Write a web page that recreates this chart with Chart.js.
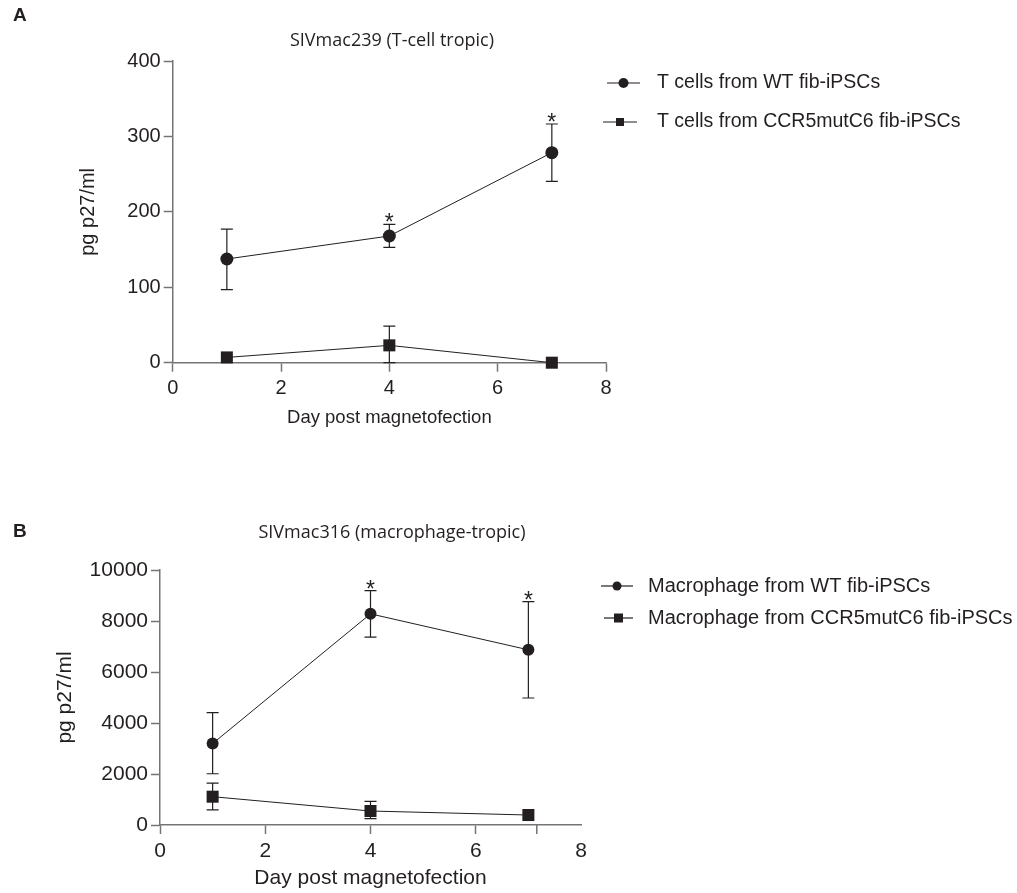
<!DOCTYPE html>
<html>
<head>
<meta charset="utf-8">
<script src="https://cdn.jsdelivr.net/npm/chart.js@4.4.1/dist/chart.umd.min.js"></script>
<style>
  html, body { margin: 0; padding: 0; background: #fff; }
  #wrap { position: relative; width: 1017px; height: 893px; }
  .panel { position: absolute; left: 0; width: 1017px; }
  #pa { top: 0; height: 445px; }
  #pb { top: 445px; height: 448px; }
</style>
</head>
<body>
<div id="wrap">
  <div class="panel" id="pa"><canvas id="chartA" width="1017" height="445"></canvas></div>
  <div class="panel" id="pb"><canvas id="chartB" width="1017" height="448"></canvas></div>
</div>
<script>
// --- data ---
const days = [1, 4, 7];
const xTicks = [0, 2, 4, 6, 8];

// panel A: SIVmac239
const legendA = ["T cells from WT fib-iPSCs", "T cells from CCR5mutC6 fib-iPSCs"];
const wtA = [137.5, 168, 278.5];
const wtA_lo = [97, 153, 240.5];
const wtA_hi = [177, 183.5, 316.5];
const mutA = [7, 23, 0];
const mutA_lo = [7, 0, 0];
const mutA_hi = [7, 48.5, 0];
const starsA = [false, true, true];
const yTicksA = [0, 100, 200, 300, 400];

// panel B: SIVmac316
const legendB = ["Macrophage from WT fib-iPSCs", "Macrophage from CCR5mutC6 fib-iPSCs"];
const wtB = [3195, 8280, 6870];
const wtB_lo = [2010, 7370, 4980];
const wtB_hi = [4410, 9190, 8760];
const mutB = [1110, 548, 391];
const mutB_lo = [590, 250, 391];
const mutB_hi = [1640, 927, 391];
const starsB = [false, true, true];
const yTicksB = [0, 2000, 4000, 6000, 8000, 10000];

const ink = "#231f20";
const axisGray = "#747474";
const sans = '"Liberation Sans", Arial, sans-serif';
const titleFont = '"Open Sans", sans-serif';

const toPts = (vals) => vals.map((v, i) => ({ x: days[i], y: v }));

// error bars, stars, titles and the line+marker legend
const panelDecor = {
  id: "panelDecor",
  beforeDatasetsDraw(chart, args, opts) {
    const { ctx, scales: { x, y } } = chart;
    ctx.save();
    ctx.strokeStyle = ink;
    ctx.lineWidth = 1.2;
    chart.data.datasets.forEach((ds) => {
      ds.data.forEach((p, i) => {
        const px = x.getPixelForValue(p.x);
        const py = y.getPixelForValue(p.y);
        [ds.errHi[i], ds.errLo[i]].forEach((e) => {
          if (e === p.y) return;
          const ey = y.getPixelForValue(e);
          ctx.beginPath();
          ctx.moveTo(px, py);
          ctx.lineTo(px, ey);
          ctx.moveTo(px - 6, ey);
          ctx.lineTo(px + 6, ey);
          ctx.stroke();
        });
      });
    });
    ctx.restore();
  },
  afterDraw(chart, args, opts) {
    const { ctx, scales: { x, y } } = chart;
    ctx.save();
    ctx.fillStyle = ink;

    // panel letter
    ctx.font = "bold 19px " + sans;
    ctx.textAlign = "left";
    ctx.textBaseline = "middle";
    ctx.fillText(opts.letter, 13, opts.letterY);

    // title
    ctx.font = "18px " + titleFont;
    ctx.textAlign = "center";
    ctx.fillText(opts.title, opts.titleX, opts.titleY);

    // significance stars
    const ds0 = chart.data.datasets[0];
    ctx.font = "23px " + sans;
    ctx.textBaseline = "alphabetic";
    opts.stars.forEach((s, i) => {
      if (!s) return;
      const px = x.getPixelForValue(days[i]);
      const cap = y.getPixelForValue(ds0.errHi[i]);
      ctx.fillText("*", px, cap + 6);
    });

    // extra tick marks on the x axis
    ctx.strokeStyle = axisGray;
    ctx.lineWidth = 1.5;
    (opts.extraTicks || []).forEach((v) => {
      const px = x.getPixelForValue(v);
      ctx.beginPath();
      ctx.moveTo(px, y.bottom);
      ctx.lineTo(px, y.bottom + 9);
      ctx.stroke();
    });

    // legend
    const lg = opts.legend;
    ctx.font = lg.size + "px " + sans;
    ctx.textAlign = "left";
    ctx.textBaseline = "middle";
    chart.data.datasets.forEach((ds, k) => {
      const row = lg.rows[k];
      ctx.strokeStyle = ink;
      ctx.lineWidth = 1.2;
      ctx.beginPath();
      ctx.moveTo(row.x0, row.y);
      ctx.lineTo(row.x1, row.y);
      ctx.stroke();
      const cx = (row.x0 + row.x1) / 2;
      ctx.fillStyle = ink;
      ctx.beginPath();
      if (ds.pointStyle === "circle") {
        ctx.arc(cx, row.y, lg.dot, 0, Math.PI * 2);
      } else {
        ctx.rect(cx - lg.sq / 2, row.y - lg.sq / 2, lg.sq, lg.sq);
      }
      ctx.fill();
      ctx.fillText(ds.label, lg.textX, row.y);
    });
    ctx.restore();
  }
};

function makeChart(id, cfg) {
  const mkDs = (label, vals, lo, hi, style, r) => ({
    label,
    data: toPts(vals),
    errLo: lo,
    errHi: hi,
    borderColor: ink,
    borderWidth: 1,
    pointStyle: style,
    pointRadius: r,
    pointBackgroundColor: ink,
    pointBorderColor: ink,
    pointBorderWidth: 0,
    tension: 0,
    clip: false
  });

  return new Chart(document.getElementById(id), {
    type: "line",
    data: {
      datasets: [
        mkDs(cfg.labels[0], cfg.wt, cfg.wtLo, cfg.wtHi, "circle", cfg.dotR),
        mkDs(cfg.labels[1], cfg.mut, cfg.mutLo, cfg.mutHi, "rect", cfg.sqR)
      ]
    },
    options: {
      responsive: false,
      animation: false,
      events: [],
      layout: { padding: cfg.padding },
      scales: {
        x: {
          type: "linear",
          min: 0,
          max: 8,
          afterBuildTicks: (s) => { s.ticks = xTicks.map((v) => ({ value: v })); },
          afterFit: (s) => { s.height = cfg.xH; },
          ticks: {
            color: ink,
            font: { family: sans, size: cfg.tickSize },
            padding: 5,
            maxRotation: 0,
            callback: (v) => String(v)
          },
          grid: {
            drawOnChartArea: false,
            tickLength: 9,
            tickWidth: 1.5,
            tickColor: (c) => (cfg.hideTick8 && c.tick && c.tick.value === 8 ? "rgba(0,0,0,0)" : axisGray)
          },
          border: { color: axisGray, width: 1.5 },
          title: {
            display: true,
            text: "Day post magnetofection",
            color: ink,
            font: { family: sans, size: cfg.xTitleSize },
            padding: { top: 4, bottom: cfg.xTitlePad }
          }
        },
        y: {
          min: 0,
          max: cfg.yTicks[cfg.yTicks.length - 1],
          afterBuildTicks: (s) => { s.ticks = cfg.yTicks.map((v) => ({ value: v })); },
          afterFit: (s) => { s.width = cfg.yW; },
          ticks: {
            color: ink,
            font: { family: sans, size: cfg.tickSize },
            padding: 3,
            callback: (v) => String(v)
          },
          grid: { drawOnChartArea: false, tickLength: 9, tickWidth: 1.5, tickColor: axisGray },
          border: { color: axisGray, width: 1.5 },
          title: {
            display: true,
            text: "pg p27/ml",
            color: ink,
            font: { family: sans, size: cfg.yTitleSize },
            padding: { top: 4, bottom: 4 }
          }
        }
      },
      plugins: {
        legend: { display: false },
        tooltip: { enabled: false },
        panelDecor: cfg.decor
      }
    },
    plugins: [panelDecor]
  });
}

makeChart("chartA", {
  labels: legendA,
  wt: wtA, wtLo: wtA_lo, wtHi: wtA_hi,
  mut: mutA, mutLo: mutA_lo, mutHi: mutA_hi,
  yTicks: yTicksA,
  dotR: 6.5, sqR: 8.5,
  tickSize: 20, xTitleSize: 18.5, yTitleSize: 20,
  padding: { left: 72, right: 411, top: 61, bottom: 12 },
  yW: 100.7, xH: 70.3, xTitlePad: 4,
  hideTick8: false,
  decor: {
    letter: "A", letterY: 16,
    title: "SIVmac239 (T-cell tropic)", titleX: 392, titleY: 41,
    stars: starsA,
    legend: {
      size: 19.5, dot: 5, sq: 8, textX: 657,
      rows: [{ x0: 607, x1: 640, y: 83 }, { x0: 603, x1: 637, y: 122 }]
    }
  }
});

makeChart("chartB", {
  labels: legendB,
  wt: wtB, wtLo: wtB_lo, wtHi: wtB_hi,
  mut: mutB, mutLo: mutB_lo, mutHi: mutB_hi,
  yTicks: yTicksB,
  dotR: 6, sqR: 8.5,
  tickSize: 21, xTitleSize: 21, yTitleSize: 21,
  padding: { left: 48.4, right: 436, top: 125, bottom: 0.4 },
  yW: 111.6, xH: 67.6, xTitlePad: 2,
  hideTick8: true,
  decor: {
    letter: "B", letterY: 87,
    title: "SIVmac316 (macrophage-tropic)", titleX: 392, titleY: 88,
    stars: starsB,
    extraTicks: [7.16],
    legend: {
      size: 20, dot: 4.5, sq: 9, textX: 648,
      rows: [{ x0: 601, x1: 633, y: 141 }, { x0: 604, x1: 633, y: 173 }]
    }
  }
});
</script>
</body>
</html>
